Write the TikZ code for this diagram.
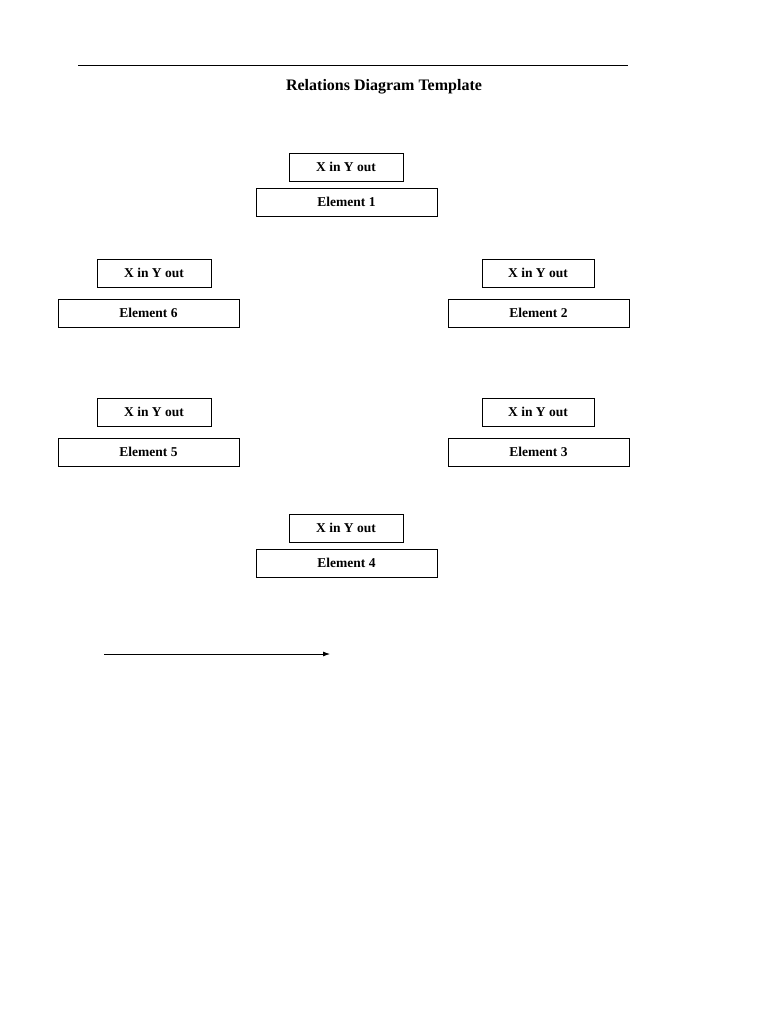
\documentclass[tikz,border=0pt]{standalone}
\usepackage{fontspec}
\setmainfont{Liberation Serif}
\usetikzlibrary{arrows.meta}
\begin{document}
\begin{tikzpicture}[x=1pt,y=-1pt,
  bx/.style={draw,line width=0.8pt,inner sep=0pt,font=\bfseries\fontsize{13.5}{15}\selectfont}]
\useasboundingbox (0,0) rectangle (768,1024);
\newcommand\bbox[6]{\node[bx,minimum width=#4-#2,minimum height=#5-#3] (#1) at ({(#2+#4)/2},{(#3+#5)/2}) {#6};}
\coordinate (l1) at (78,65); \coordinate (l2) at (628,65);
\draw[line width=0.8pt] (l1) -- (l2);
\node[font=\bfseries\fontsize{16}{18}\selectfont] (title) at (384,87) {Relations Diagram Template};
\bbox{x1}{289}{153}{403}{181}{X in Y out}
\bbox{e1}{256}{188}{437}{216}{Element 1}
\bbox{x6}{97}{259}{211}{287}{X in Y out}
\bbox{e6}{58}{299}{239}{327}{Element 6}
\bbox{x2}{482}{259}{594}{287}{X in Y out}
\bbox{e2}{448}{299}{629}{327}{Element 2}
\bbox{x5}{97}{398}{211}{426}{X in Y out}
\bbox{e5}{58}{438}{239}{466}{Element 5}
\bbox{x3}{482}{398}{594}{426}{X in Y out}
\bbox{e3}{448}{438}{629}{466}{Element 3}
\bbox{x4}{289}{514}{403}{542}{X in Y out}
\bbox{e4}{256}{549}{437}{577}{Element 4}
\coordinate (a1) at (104,654); \coordinate (a2) at (330,654);
\draw[line width=0.8pt,-{Latex[length=7pt,width=5pt]}] (a1) -- (a2);
\end{tikzpicture}
\end{document}
